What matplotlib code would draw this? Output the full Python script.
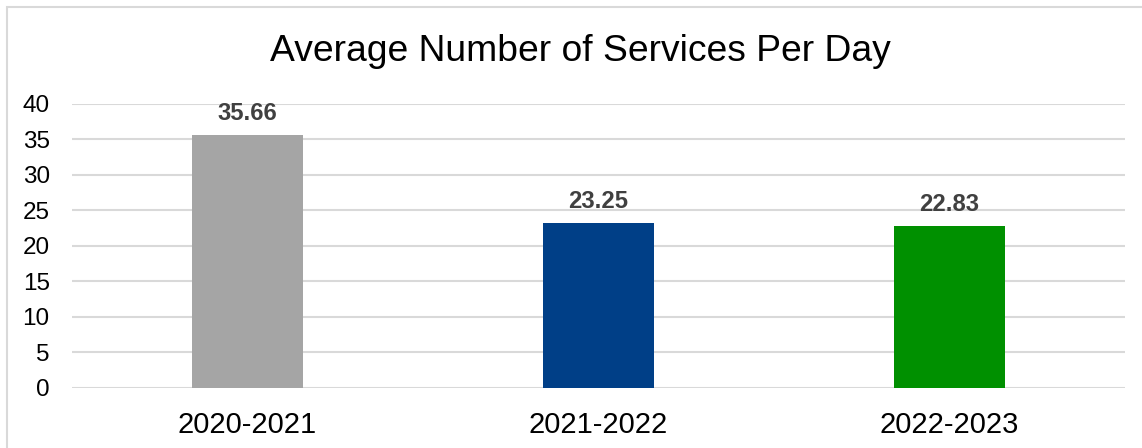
import matplotlib.pyplot as plt
from matplotlib.patches import Rectangle

plt.rcParams['font.family'] = ['Liberation Sans', 'DejaVu Sans']

years = ['2020-2021', '2021-2022', '2022-2023']
services_per_day = [35.66, 23.25, 22.83]
bar_colors = ['#A5A5A5', '#003F87', '#009000']
y_ticks = [0, 5, 10, 15, 20, 25, 30, 35, 40]

fig = plt.figure(figsize=(11.42, 4.48), dpi=100)
ax = fig.add_axes([0.063, 0.1346, 0.9221, 0.6333])

x = range(len(years))
bars = ax.bar(x, services_per_day, width=0.316, color=bar_colors, zorder=3)

# value labels above each bar
for rect, val in zip(bars, services_per_day):
    ax.annotate(f'{val:.2f}', (rect.get_x() + rect.get_width() / 2, val),
                xytext=(0, 15.5), textcoords='offset points',
                ha='center', va='center', fontsize=17.2, fontweight='bold',
                color='#404040')

ax.set_xlim(-0.5, 2.5)
ax.set_ylim(0, 40)
ax.set_yticks(y_ticks)
ax.set_xticks(list(x))
ax.set_xticklabels(years, fontsize=21)
ax.tick_params(axis='y', labelsize=17.5, length=0, pad=16)
ax.tick_params(axis='x', length=0, pad=17)
ax.grid(axis='y', color='#D9D9D9', linewidth=1.5, zorder=0)
for s in ax.spines.values():
    s.set_visible(False)

fig.text(0.508, 0.884, 'Average Number of Services Per Day',
         ha='center', va='center', fontsize=26.8)

# outer chart frame
fig.patches.append(Rectangle((7 / 1142, -0.05), 1.1, 1.05 - 7 / 448,
                             transform=fig.transFigure, fill=False,
                             edgecolor='#D9D9D9', linewidth=1.5))

fig.savefig('out.png', dpi=100)
